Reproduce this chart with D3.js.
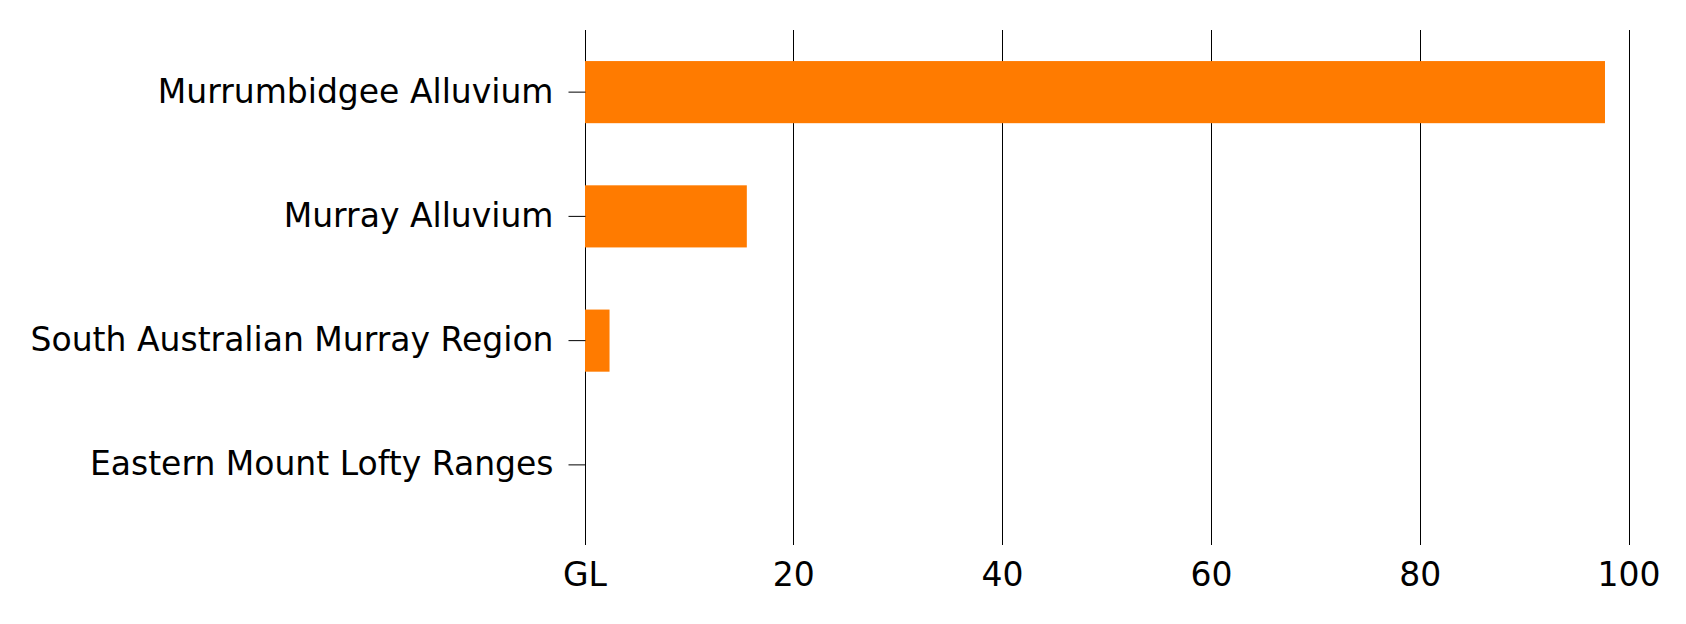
<!DOCTYPE html>
<html>
<head>
<meta charset="utf-8">
<script src="https://cdn.jsdelivr.net/npm/d3@7"></script>
<style>
  body { margin: 0; background: #fff; }
  text { font-family: "DejaVu Sans", Verdana, sans-serif; }
</style>
</head>
<body>
<svg width="1686" height="624"></svg>
<script>
var regions = ['Murrumbidgee Alluvium', 'Murray Alluvium', 'South Australian Murray Region', 'Eastern Mount Lofty Ranges'];
var volumes = [97.7, 15.5, 2.35, 0];
var xTicks = [0, 20, 40, 60, 80, 100];
var xTickLabels = ['GL', '20', '40', '60', '80', '100'];

var svg = d3.select('svg');
var plotTop = 30,
  plotBottom = 545;

var x = d3.scaleLinear()
  .domain([0, 100])
  .range([584.5, 1628.5]);

var y = d3.scaleBand()
  .domain(regions)
  .range([plotTop, 527])
  .paddingInner(0.5)
  .paddingOuter(0.25);

// vertical grid lines, one per tick
svg.append('g')
  .selectAll('line')
  .data(xTicks)
  .enter()
  .append('line')
  .attr('x1', d => Math.round(x(d)) + 0.5)
  .attr('x2', d => Math.round(x(d)) + 0.5)
  .attr('y1', plotTop)
  .attr('y2', plotBottom)
  .attr('stroke', '#000')
  .attr('stroke-width', 1);

// bars
svg.append('g')
  .selectAll('rect')
  .data(regions)
  .enter()
  .append('rect')
  .attr('x', x(0) + 0.5)
  .attr('y', d => y(d))
  .attr('height', y.bandwidth())
  .attr('width', (d, i) => Math.max(0, x(volumes[i]) - x(0)))
  .attr('fill', '#ff7b00');

// category axis
var yAxis = svg.append('g')
  .attr('transform', 'translate(' + (Math.round(x(0)) + 0.5) + ',0)')
  .call(d3.axisLeft(y).tickSize(17).tickPadding(15));
yAxis.select('.domain').remove();
yAxis.selectAll('line').attr('stroke', '#000');
yAxis.selectAll('text')
  .attr('font-size', '33px')
  .attr('font-family', '"DejaVu Sans", Verdana, sans-serif')
  .attr('fill', '#000');

// value axis labels
var xAxis = svg.append('g')
  .attr('transform', 'translate(0,' + plotBottom + ')')
  .call(d3.axisBottom(x).tickValues(xTicks).tickSize(0).tickPadding(18)
    .tickFormat((d, i) => xTickLabels[i]));
xAxis.select('.domain').remove();
xAxis.selectAll('text')
  .attr('font-size', '33px')
  .attr('font-family', '"DejaVu Sans", Verdana, sans-serif')
  .attr('fill', '#000');
</script>
</body>
</html>
